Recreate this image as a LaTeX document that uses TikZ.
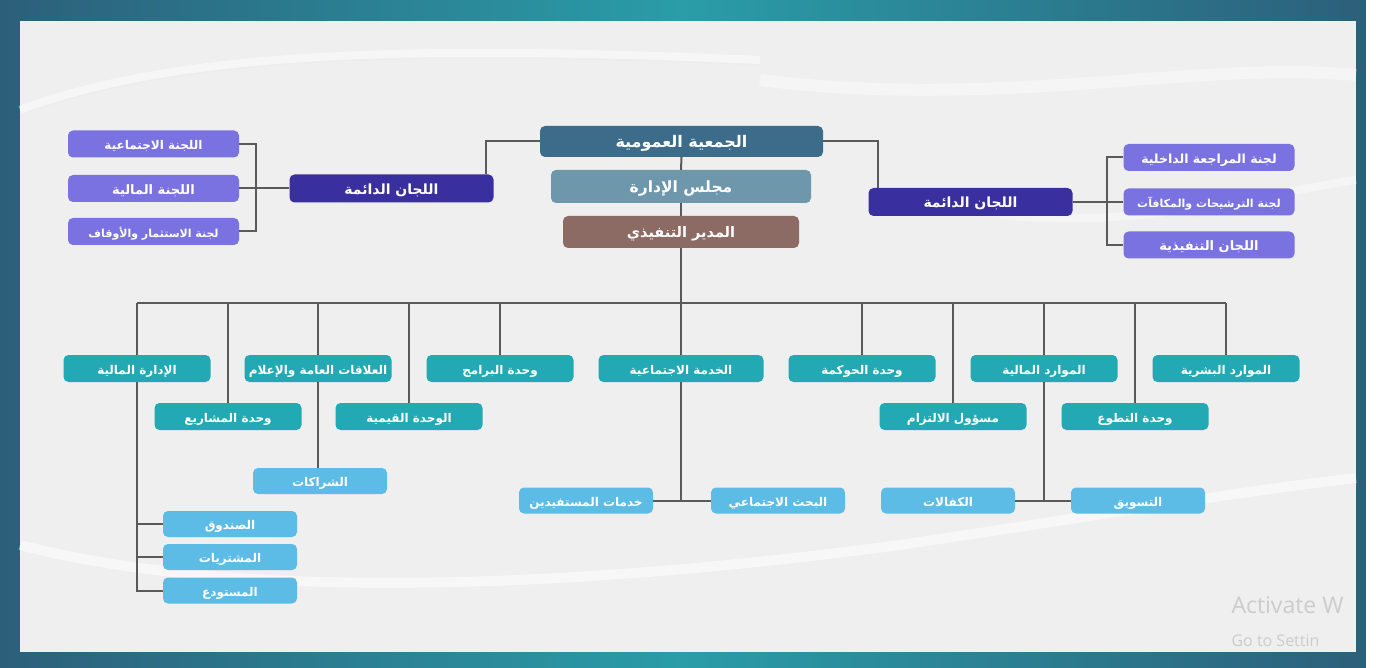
\documentclass[tikz,border=0pt]{standalone}
\usepackage{fontspec}
\usepackage{tikz}
\newfontfamily\arabicfont[Script=Arabic]{DejaVu Sans}
\newfontfamily\winfont{Open Sans}
\TeXXeTstate=1
\newcommand{\artext}[1]{\arabicfont\bfseries\beginR #1\endR}

\definecolor{frameA}{HTML}{2C5F7A}
\definecolor{frameB}{HTML}{2A9DA8}
\definecolor{bgcol}{HTML}{EFEFEF}
\definecolor{gacol}{HTML}{3C6C89}
\definecolor{boardcol}{HTML}{6F97AC}
\definecolor{execcol}{HTML}{8D6B65}
\definecolor{commcol}{HTML}{3A2F9E}
\definecolor{membcol}{HTML}{7A72E0}
\definecolor{unitcol}{HTML}{22A9B3}
\definecolor{subcol}{HTML}{5CBCE6}
\definecolor{linecol}{HTML}{5A5A5A}

\begin{document}
\begin{tikzpicture}[x=1pt,y=-1pt,
  box/.style={rounded corners=5pt,text=white,inner sep=0pt,align=center,
    text height=2.6ex,text depth=0pt,font=\fontsize{12}{14}\selectfont},
  top/.style={box,font=\fontsize{15.5}{18}\selectfont},
  comm/.style={box,fill=commcol,minimum width=204pt,minimum height=28pt,
    font=\fontsize{14}{16}\selectfont},
  memb/.style={box,fill=membcol,minimum width=171pt,minimum height=27pt,
    font=\fontsize{12}{14}\selectfont},
  unit/.style={box,fill=unitcol,minimum width=147pt,minimum height=27pt},
  sub/.style={box,fill=subcol,minimum width=134pt,minimum height=26pt},
  link/.style={draw=linecol,line width=2pt}]

\useasboundingbox (0,0) rectangle (1376,668);

% frame and background
\fill[left color=frameA,right color=frameA,middle color=frameB] (0,0) rectangle (1366,668);
\fill[bgcol] (20,21) rectangle (1356,652);
\fill[white] (1366,0) rectangle (1376,668);
\draw[white,line width=8pt,opacity=0.45] (20,110) .. controls (180,50) and (420,45) .. (760,60);
\draw[black!7,line width=1pt] (20,115) .. controls (180,55) and (420,50) .. (760,65);
\draw[white,line width=12pt,opacity=0.4] (760,80) .. controls (1000,110) and (1200,60) .. (1356,75);
\draw[white,line width=10pt,opacity=0.5] (20,545) .. controls (250,605) and (600,585) .. (900,545)
  .. controls (1100,515) and (1250,490) .. (1356,478);
\draw[black!6,line width=1pt] (20,552) .. controls (250,612) and (600,592) .. (900,552)
  .. controls (1100,522) and (1250,497) .. (1356,485);
\draw[white,line width=8pt,opacity=0.4] (1000,215) .. controls (1150,230) and (1280,190) .. (1356,180);

% activation watermark
\node[anchor=west,text=black!20,font=\winfont\fontsize{23}{26}\selectfont] (act) at (1228,605) {Activate W};
\node[anchor=west,text=black!20,font=\winfont\fontsize{16}{18}\selectfont] (gos) at (1228,641) {Go to Settin};
\fill[white] (1366,0) rectangle (1376,668);

% top of the chart
\node[top,fill=gacol,minimum width=283pt,minimum height=31pt,font=\fontsize{16}{18}\selectfont] (GA) at (681.5,141.5) {\artext{الجمعية العمومية}};
\node[top,fill=boardcol,minimum width=260pt,minimum height=33pt] (BD) at (681,186.5) {\artext{مجلس الإدارة}};
\node[top,fill=execcol,minimum width=236pt,minimum height=32pt,font=\fontsize{14.5}{17}\selectfont] (ED) at (681,232) {\artext{المدير التنفيذي}};

\node[comm] (LC) at (391.5,188.5) {\artext{اللجان الدائمة}};
\node[memb] (LC1) at (153.5,144) {\artext{اللجنة الاجتماعية}};
\node[memb,font=\fontsize{13}{15}\selectfont] (LC2) at (153.5,188.5) {\artext{اللجنة المالية}};
\node[memb,font=\fontsize{11}{13}\selectfont] (LC3) at (153.5,231.5) {\artext{لجنة الاستثمار والأوقاف}};

\node[comm] (RC) at (970.5,202) {\artext{اللجان الدائمة}};
\node[memb,font=\fontsize{12.5}{15}\selectfont] (RC1) at (1209,157.5) {\artext{لجنة المراجعة الداخلية}};
\node[memb,font=\fontsize{11}{13}\selectfont] (RC2) at (1209,202) {\artext{لجنة الترشيحات والمكافآت}};
\node[memb,font=\fontsize{13}{15}\selectfont] (RC3) at (1209,245) {\artext{اللجان التنفيذية}};

% units
\node[unit] (FIN) at (137,368.5) {\artext{الإدارة المالية}};
\node[unit] (PR) at (318,368.5) {\artext{العلاقات العامة والإعلام}};
\node[unit] (PROG) at (500,368.5) {\artext{وحدة البرامج}};
\node[unit,minimum width=165pt] (SOC) at (681,368.5) {\artext{الخدمة الاجتماعية}};
\node[unit] (GOV) at (862,368.5) {\artext{وحدة الحوكمة}};
\node[unit] (FR) at (1044,368.5) {\artext{الموارد المالية}};
\node[unit] (HR) at (1226,368.5) {\artext{الموارد البشرية}};
\node[unit] (PROJ) at (228,416.5) {\artext{وحدة المشاريع}};
\node[unit] (VAL) at (409,416.5) {\artext{الوحدة القيمية}};
\node[unit] (COMP) at (953,416.5) {\artext{مسؤول الالتزام}};
\node[unit] (VOL) at (1135,416.5) {\artext{وحدة التطوع}};

\node[sub] (PART) at (320,481) {\artext{الشراكات}};
\node[sub] (BEN) at (586,500.5) {\artext{خدمات المستفيدين}};
\node[sub] (RES) at (778,500.5) {\artext{البحث الاجتماعي}};
\node[sub] (SPON) at (948,500.5) {\artext{الكفالات}};
\node[sub] (MKT) at (1138,500.5) {\artext{التسويق}};
\node[sub] (CASH) at (230,524) {\artext{الصندوق}};
\node[sub] (PUR) at (230,557) {\artext{المشتريات}};
\node[sub] (STORE) at (230,590.5) {\artext{المستودع}};

\coordinate (bus) at (681,303);
\coordinate (lbr) at (256,188.5);
\coordinate (rbr) at (1107,202);

% connectors
\draw[link] (GA.south) -- (BD.north);
\draw[link] (BD.south) -- (ED.north);
\draw[link] (GA.west) -| ([xshift=-8pt]LC.north east);
\draw[link] (GA.east) -| ([xshift=10pt]RC.north west);
\draw[link] (LC.west) -- (LC2.east);
\draw[link] (LC1.east) -| (lbr) |- (LC3.east);
\draw[link] (RC.east) -- (RC2.west);
\draw[link] (RC1.west) -| (rbr) |- (RC3.west);

\draw[link] (ED.south) -- (bus);
\draw[link] (FIN.north |- bus) -- (HR.north |- bus);
\foreach \n in {FIN,PR,PROG,SOC,GOV,FR,HR,PROJ,VAL,COMP,VOL}
  \draw[link] (\n.north) -- (\n.north |- bus);

\draw[link] (PR.south) -- (PR.south |- PART.north);
\draw[link] (SOC.south) -- (SOC.south |- BEN.east);
\draw[link] (BEN.east) -- (RES.west);
\draw[link] (FR.south) -- (FR.south |- SPON.east);
\draw[link] (SPON.east) -- (MKT.west);
\draw[link] (FIN.south) -- (FIN.south |- STORE.west) -- (STORE.west);
\draw[link] (CASH.west) -- (CASH.west -| FIN.south);
\draw[link] (PUR.west) -- (PUR.west -| FIN.south);

\end{tikzpicture}
\end{document}
